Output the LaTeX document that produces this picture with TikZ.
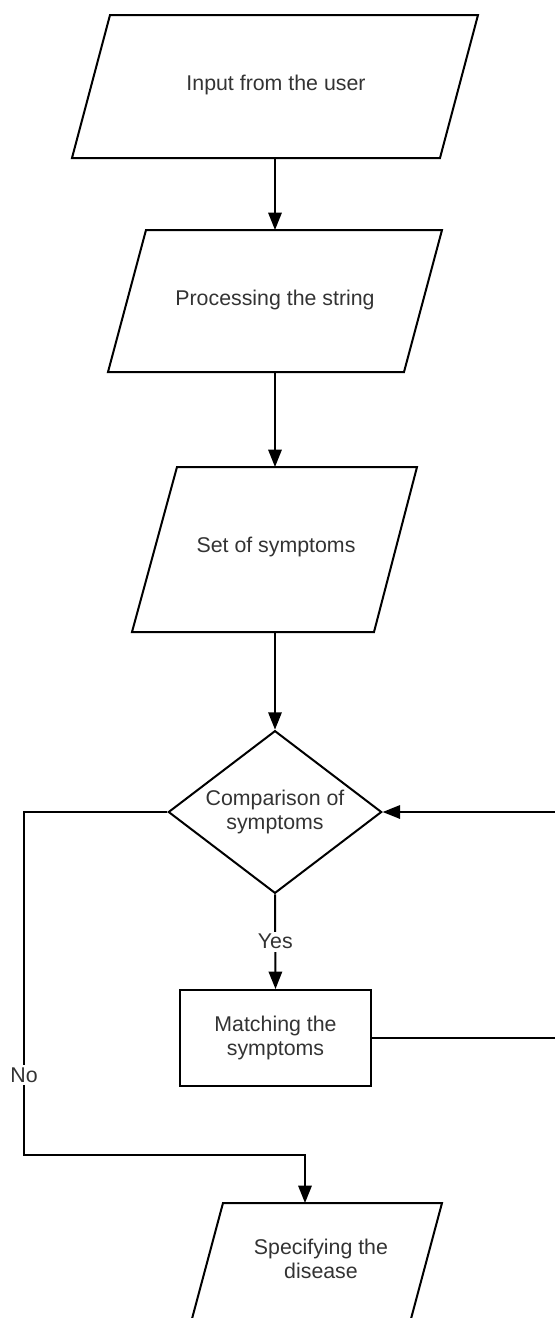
\documentclass[tikz,border=0pt]{standalone}
\usepackage{fontspec}
\setmainfont{Liberation Sans}
\usetikzlibrary{shapes.geometric,arrows.meta}
\definecolor{txt}{RGB}{51,51,51}
\begin{document}
\begin{tikzpicture}[x=0.75pt,y=-0.75pt, line width=1.5pt,
  lbl/.style={font=\fontsize{16}{18.5}\selectfont, text=txt, align=center},
  shp/.style={draw=black, line join=miter},
  arr/.style={draw=black, -{Triangle[length=13pt,width=10pt]}},
  tag/.style={lbl, fill=white, inner sep=2pt}]
\useasboundingbox (0,0) rectangle (554,1318);

% parallelogram 1
\draw[shp] (110,15) -- (478,15) -- (440,158) -- (72,158) -- cycle;
\node[lbl] (p1) at (276,85) {Input from the user};
\coordinate (p1b) at (275,158);

% parallelogram 2
\draw[shp] (146,230) -- (442,230) -- (404,372) -- (108,372) -- cycle;
\node[lbl] (p2) at (275,300) {Processing the string};
\coordinate (p2t) at (275,230);
\coordinate (p2b) at (275,372);

% parallelogram 3
\draw[shp] (177,467) -- (417,467) -- (374,632) -- (132,632) -- cycle;
\node[lbl] (p3) at (276,547) {Set of symptoms};
\coordinate (p3t) at (275,467);
\coordinate (p3b) at (275,632);

% decision
\node[diamond, aspect=1.3, shp, minimum width=160pt, minimum height=122pt, inner sep=0pt, lbl] (cmp) at (275,812) {Comparison of\\symptoms};

% process box
\node[rectangle, shp, minimum width=143pt, minimum height=72pt, lbl] (match) at (275.5,1038) {Matching the\\symptoms};

% parallelogram 4 (cut by the lower border)
\draw[shp] (223,1203) -- (442,1203) -- (410.4,1321) -- (191.4,1321) -- cycle;
\node[lbl] (p4) at (321,1259) {Specifying the\\disease};
\coordinate (p4t) at (305,1203);

% helper coordinates
\coordinate (loopR) at (560,1038);
\coordinate (nc) at (24,1155);

% connectors
\draw[arr] (p1b) -- (p2t);
\draw[arr] (p2b) -- (p3t);
\draw[arr] (p3b) -- (cmp.north);
\draw[arr] (cmp.south) -- node[tag] (yes) {Yes} (match.north);
\draw[arr] (match.east) -- (loopR) |- (cmp.east);
\draw[arr] (cmp.west) -| (nc) -| (p4t);
\node[tag] (no) at (24,1075) {No};
\end{tikzpicture}
\end{document}
